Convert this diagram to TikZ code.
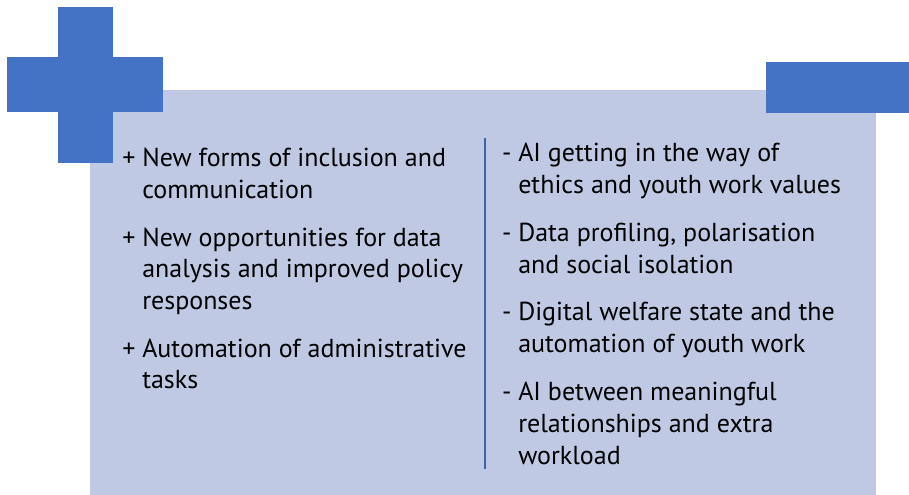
\documentclass[tikz,border=0pt]{standalone}
\usepackage{fontspec}
\setmainfont{PT Sans}
\usetikzlibrary{positioning}
\definecolor{crossblue}{HTML}{4472C4}
\definecolor{panelblue}{HTML}{BFC9E3}
\definecolor{rulecolor}{HTML}{3F62A8}
\tikzstyle{item} = [inner sep=0pt, align=left, anchor=north west, execute at begin node=\strut, execute at end node=\strut]
\tikzstyle{pro} = [item, font=\fontsize{19.5}{23.5}\selectfont]
\tikzstyle{con} = [item, font=\fontsize{19.5}{24}\selectfont]
\newcommand{\Pro}{\llap{+\hspace{5pt}}}
\newcommand{\Con}{\llap{-\hspace{5pt}}}

\begin{document}
\begin{tikzpicture}[x=0.75pt, y=-0.75pt]
\useasboundingbox (0,0) rectangle (909,495);

% Panel and blocks
\fill[panelblue] (90,90) rectangle (876,495);
\fill[crossblue] (58,7) rectangle (113,163);
\fill[crossblue] (7,57) rectangle (163,112);
\fill[crossblue] (766,62) rectangle (909,113);
\draw[rulecolor, line width=1.2pt] (485,138) -- (485,469);

% Pros
\node[pro] (p1) at (142,148) {\Pro New forms of inclusion and\\communication};
\node[pro, below = 15pt of p1.south west, anchor=north west] (p2) {\Pro New opportunities for data\\analysis and improved policy\\responses};
\node[pro, below = 15pt of p2.south west, anchor=north west] (p3) {\Pro Automation of administrative\\tasks};

% Cons
\node[con] (c1) at (518,143) {\Con AI getting in the way of\\ethics and youth work values};
\node[con, below = 14.25pt of c1.south west, anchor=north west] (c2) {\Con Data profiling, polarisation\\and social isolation};
\node[con, below = 14.25pt of c2.south west, anchor=north west] (c3) {\Con Digital welfare state and the\\automation of youth work};
\node[con, below = 14.25pt of c3.south west, anchor=north west] (c4) {\Con AI between meaningful\\relationships and extra\\workload};
\end{tikzpicture}
\end{document}
